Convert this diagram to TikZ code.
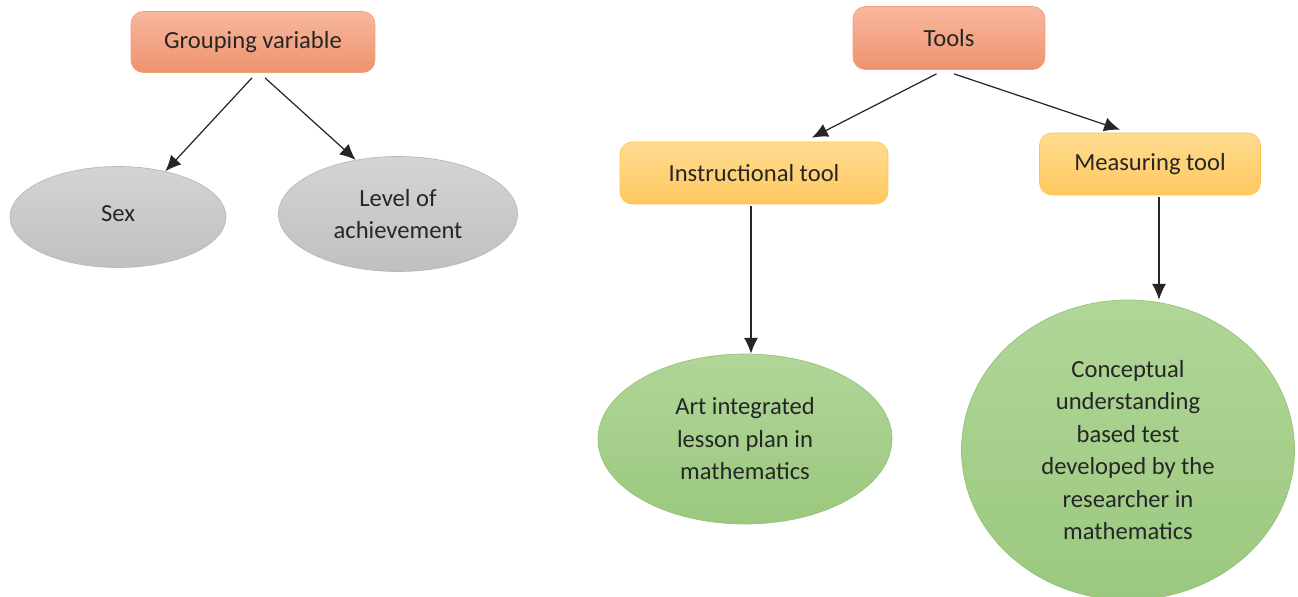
\documentclass[tikz,border=0pt]{standalone}
\usepackage{fontspec}
\setmainfont{Carlito}
\usetikzlibrary{shapes.geometric,arrows.meta,positioning}
\definecolor{headtop}{RGB}{247,184,158}
\definecolor{headbot}{RGB}{239,146,110}
\definecolor{headline}{RGB}{240,160,125}
\definecolor{subtop}{RGB}{255,220,145}
\definecolor{subbot}{RGB}{255,200,95}
\definecolor{subline}{RGB}{255,195,80}
\definecolor{leaftop}{RGB}{176,214,152}
\definecolor{leafbot}{RGB}{155,200,126}
\definecolor{leafline}{RGB}{150,195,120}
\definecolor{vartop}{RGB}{212,212,212}
\definecolor{varbot}{RGB}{192,192,192}
\definecolor{varline}{RGB}{185,185,185}

\tikzset{
  headbox/.style={draw=headline, top color=headtop, bottom color=headbot, rounded corners=7pt,
                  minimum height=1.22cm, align=center},
  subbox/.style={draw=subline, top color=subtop, bottom color=subbot, rounded corners=7pt,
                 minimum height=1.24cm, align=center},
  varoval/.style={ellipse, draw=varline, top color=vartop, bottom color=varbot, align=center, inner sep=0pt},
  leafoval/.style={ellipse, draw=leafline, top color=leaftop, bottom color=leafbot, align=center, inner sep=0pt},
  link/.style={-{Latex[length=9pt,width=8pt]}, draw=black!85, line width=0.7pt}
}

\begin{document}
\begin{tikzpicture}[x=0.02cm, y=-0.02cm, font=\fontsize{14}{18.5}\selectfont, text=black!85]
    \useasboundingbox (0,0) rectangle (1298,596);

    % left branch
    \node[headbox, minimum width=4.88cm] (group) at (253,42) {Grouping variable};
    \node[varoval, minimum width=4.32cm, minimum height=2.02cm] (sex) at (118,217) {\raisebox{4pt}{Sex}};
    \node[varoval, minimum width=4.78cm, minimum height=2.3cm] (level) at (398,214) {Level of\\achievement};

    \draw[link] ([xshift=-0.02cm,yshift=-0.1cm]group.south) -- (sex.44);
    \draw[link] ([xshift=0.24cm,yshift=-0.1cm]group.south) -- (level.128);

    % right branch
    \node[headbox, minimum width=3.84cm, minimum height=1.26cm] (tools) at (949,38) {Tools};
    \node[subbox, minimum width=5.36cm] (instr) at (754,173) {Instructional tool};
    \node[subbox, minimum width=4.42cm] (measure) at (1150,164) {Measuring tool};

    \draw[link] ([xshift=-0.25cm,yshift=-0.08cm]tools.south) -- ([xshift=1.16cm,yshift=0.08cm]instr.north);
    \draw[link] ([xshift=0.1cm,yshift=-0.08cm]tools.south) -- ([xshift=-0.6cm,yshift=0.06cm]measure.north);

    \node[leafoval, minimum width=5.88cm, minimum height=3.4cm] (lesson) at (745,439)
        {Art integrated\\lesson plan in\\mathematics};
    \node[leafoval, minimum width=6.66cm, minimum height=6.0cm] (test) at (1128,450)
        {Conceptual\\understanding\\based test\\developed by the\\researcher in\\mathematics};

    \draw[link] ([xshift=-0.06cm,yshift=-0.04cm]instr.south) -- ([xshift=-0.06cm]instr.south |- lesson.north);
    \draw[link] ([xshift=0.18cm,yshift=-0.04cm]measure.south) -- ([xshift=0.18cm]measure.south |- test.north);
\end{tikzpicture}
\end{document}
